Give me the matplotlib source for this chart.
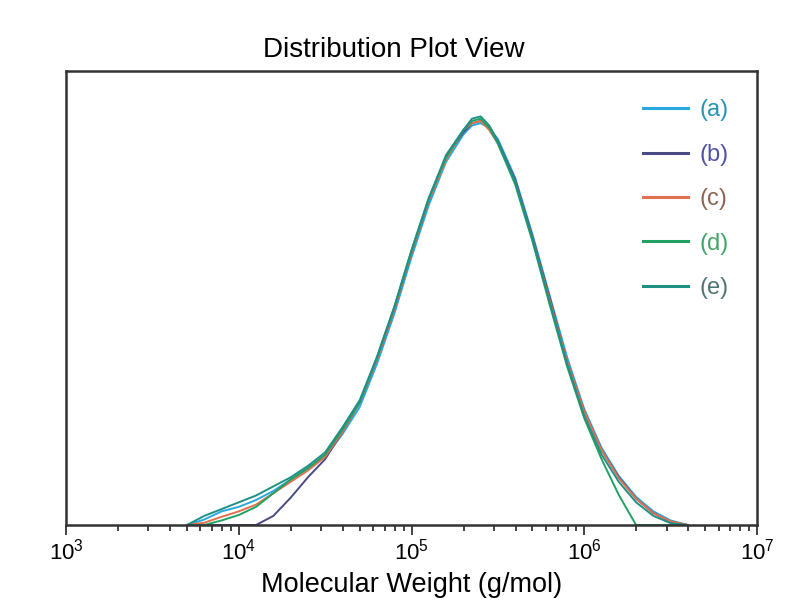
import numpy as np
import matplotlib
matplotlib.use('Agg')
import matplotlib.pyplot as plt
from matplotlib.ticker import LogLocator, NullFormatter

plt.rcParams['font.family'] = ['Liberation Sans', 'DejaVu Sans']

# log10 of molecular weight, shared by every sample
log_mw = [3.7, 3.8, 3.9, 4.0, 4.1, 4.2, 4.3, 4.4, 4.5, 4.6,
          4.7, 4.8, 4.9, 5.0, 5.1, 5.2, 5.3, 5.35, 5.4, 5.45, 5.5, 5.6,
          5.7, 5.8, 5.9, 6.0, 6.1, 6.2, 6.3, 6.4, 6.5, 6.6]

# distribution values (fraction of axis height)
dist_a = [0.0, 0.012, 0.03, 0.04, 0.055, 0.075, 0.1, 0.125, 0.15, 0.2,
          0.26, 0.355, 0.465, 0.59, 0.705, 0.8, 0.86, 0.88, 0.885, 0.875, 0.85, 0.765,
          0.64, 0.505, 0.37, 0.255, 0.17, 0.108, 0.062, 0.03, 0.01, 0.0]
dist_b = [0.0, 0.0, 0.0, 0.0, 0.0, 0.02, 0.06, 0.105, 0.145, 0.205,
          0.27, 0.365, 0.475, 0.6, 0.715, 0.81, 0.865, 0.885, 0.89, 0.875, 0.845, 0.76,
          0.635, 0.5, 0.36, 0.25, 0.165, 0.105, 0.058, 0.026, 0.007, 0.0]
dist_c = [0.0, 0.005, 0.018, 0.03, 0.045, 0.07, 0.095, 0.12, 0.15, 0.205,
          0.27, 0.365, 0.475, 0.6, 0.715, 0.805, 0.87, 0.885, 0.89, 0.87, 0.84, 0.755,
          0.63, 0.495, 0.36, 0.25, 0.165, 0.103, 0.058, 0.026, 0.008, 0.0]
dist_d = [0.0, 0.0, 0.01, 0.022, 0.04, 0.07, 0.1, 0.125, 0.155, 0.21,
          0.27, 0.37, 0.48, 0.605, 0.72, 0.81, 0.87, 0.89, 0.895, 0.875, 0.84, 0.75,
          0.625, 0.485, 0.35, 0.235, 0.145, 0.066, 0.0, 0.0, 0.0, 0.0]
dist_e = [0.0, 0.02, 0.035, 0.05, 0.065, 0.085, 0.105, 0.13, 0.16, 0.215,
          0.275, 0.37, 0.48, 0.605, 0.72, 0.815, 0.87, 0.895, 0.9, 0.88, 0.845, 0.755,
          0.63, 0.49, 0.355, 0.24, 0.155, 0.095, 0.05, 0.02, 0.004, 0.0]

labels = ['(a)', '(b)', '(c)', '(d)', '(e)']
line_colors = ['#2aa9e0', '#4a4a85', '#e2704e', '#22a262', '#1f9184']
text_colors = ['#2a93b5', '#5052a3', '#8c6352', '#43a466', '#4f7474']

mw = 10 ** np.array(log_mw)

fig = plt.figure(figsize=(7.99, 6.08), dpi=100)
ax = fig.add_axes([0.0826, 0.1365, 0.8649, 0.7467])

for y, lab, col in zip([dist_a, dist_b, dist_c, dist_d, dist_e], labels, line_colors):
    ax.plot(mw, y, color=col, lw=1.4, label=lab)

ax.set_xscale('log')
ax.set_xlim(1e3, 1e7)
ax.set_ylim(0, 1)
ax.set_yticks([])

ax.xaxis.set_major_locator(LogLocator(base=10, numticks=10))
ax.xaxis.set_minor_locator(LogLocator(base=10, subs=np.arange(2, 10), numticks=10))
ax.xaxis.set_minor_formatter(NullFormatter())
ax.tick_params(axis='x', which='major', direction='out', length=7, width=1.3,
               labelsize=16, pad=3, color='#333333')
ax.tick_params(axis='x', which='minor', direction='out', length=4, width=1.3,
               color='#333333')

for sp in ax.spines.values():
    sp.set_linewidth(1.8)
    sp.set_color('#333333')

ax.set_xlabel('Molecular Weight (g/mol)', fontsize=19.5, labelpad=5)
ax.set_title('Distribution Plot View', fontsize=20, pad=10, x=0.475)

leg = ax.legend(loc='upper right', frameon=False, fontsize=17, handlelength=1.9,
                labelspacing=0.95, borderaxespad=0.8, handletextpad=0.5,
                labelcolor=text_colors)
for h in leg.get_lines():
    h.set_linewidth(2.2)

fig.savefig('out.png', dpi=100)
